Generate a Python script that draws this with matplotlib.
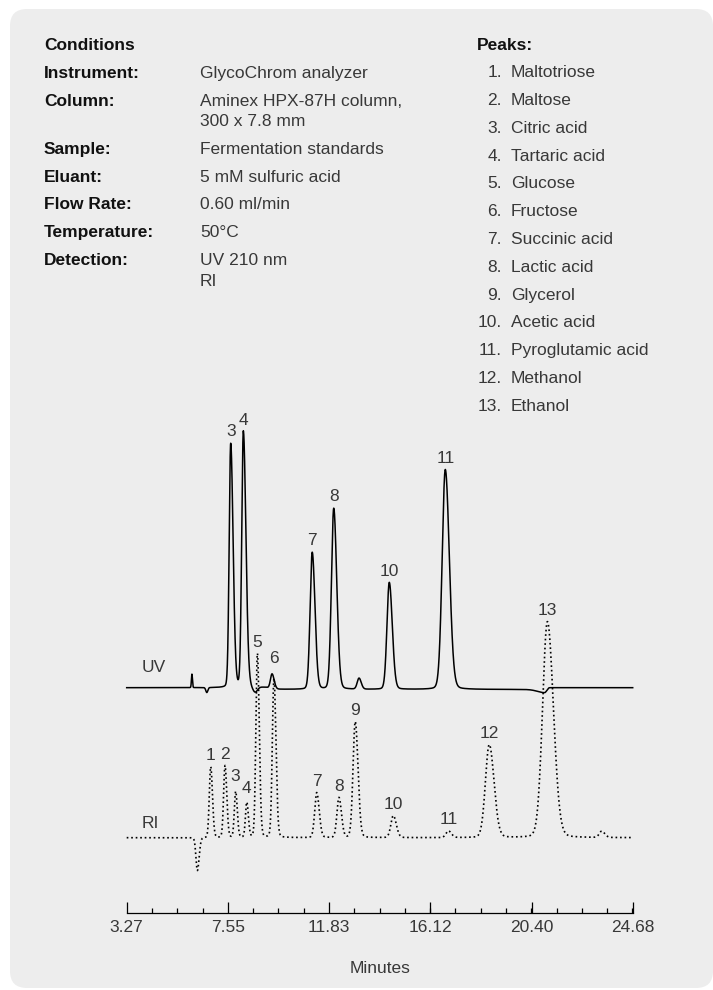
import numpy as np
import matplotlib
matplotlib.use("Agg")
import matplotlib.pyplot as plt
from matplotlib.patches import FancyBboxPatch

plt.rcParams['font.family'] = ['Liberation Sans', 'DejaVu Sans']
plt.rcParams['font.size'] = 12.5

# ---- data ----
cond_labels = ["Instrument:", "Column:", "Sample:", "Eluant:", "Flow Rate:",
               "Temperature:", "Detection:"]
cond_values = ["GlycoChrom analyzer", "Aminex HPX-87H column,\n300 x 7.8 mm",
               "Fermentation standards", "5 mM sulfuric acid", "0.60 ml/min",
               "50°C", "UV 210 nm\nRI"]
peak_names = ["Maltotriose", "Maltose", "Citric acid", "Tartaric acid", "Glucose",
              "Fructose", "Succinic acid", "Lactic acid", "Glycerol", "Acetic acid",
              "Pyroglutamic acid", "Methanol", "Ethanol"]

xticks = [3.27, 7.55, 11.83, 16.12, 20.40, 24.68]

# UV trace: retention time (min), height, half width, tailing; label ('' = none)
uv_t = [6.03, 6.66, 7.67, 8.205, 8.70, 9.42, 11.12, 12.03, 13.10, 14.38, 16.75, 20.95]
uv_h = [13.5, -5.0, 244, 256, -6.0, 15, 137, 181, 11, 107, 220, -3.2]
uv_w = [0.025, 0.05, 0.075, 0.08, 0.12, 0.08, 0.105, 0.115, 0.09, 0.115, 0.155, 0.35]
uv_tail = [1.0, 1.0, 1.6, 1.6, 1.0, 1.3, 1.3, 1.3, 1.2, 1.3, 1.3, 0.23]
uv_lab = ['', '', '3', '4', '', '', '7', '8', '', '10', '11', '']
uv_drift = (9.3, 21.1, -1.8)   # start, end, level

# RI trace
ri_t = [6.26, 6.825, 7.43, 7.88, 8.35, 8.80, 9.50, 11.31, 12.25, 12.94, 14.55,
        16.88, 18.61, 21.07, 23.37]
ri_h = [-33, 71, 72, 46, 35, 184, 159, 45, 40, 116, 22, 6.7, 93, 216, 6.3]
ri_w = [0.07, 0.07, 0.07, 0.065, 0.065, 0.075, 0.08, 0.1, 0.1, 0.11, 0.12,
        0.12, 0.19, 0.24, 0.12]
ri_lab = ['', '1', '2', '3', '4', '5', '6', '7', '8', '9', '10', '11', '12', '13', '']

# ---- layout (pixels) ----
W, H = 713, 990
x0, x1 = 126.7, 632.7      # axis ends
y_axis = 913.3             # axis line (from top)
y_top = 400
uv_base = y_axis - 687.7
ri_base = y_axis - 837.7
label_gap = 13
label_nudge = {('RI', '6'): 9, ('RI', '3'): 3.5, ('RI', '4'): 2, ('UV', '4'): -1.5}
txt_col = '#383838'


def peak(t, t0, h, w, tail, eta=0.08):
    s = np.where(t < t0, w, w * tail)
    x = (t - t0) / s
    return h * ((1 - eta) * np.exp(-np.log(2) * x ** 2) + eta / (1 + x ** 2))


t = np.linspace(xticks[0], xticks[-1], 6000)
uv = np.full_like(t, uv_base)
for a, b, c, d in zip(uv_t, uv_h, uv_w, uv_tail):
    uv += peak(t, a, b, c, d)
a, b, lvl = uv_drift
uv += lvl * 0.5 * (np.tanh((t - a) / 0.15) - np.tanh((t - b) / 0.03))

ri = np.full_like(t, ri_base)
for a, b, c in zip(ri_t, ri_h, ri_w):
    ri += peak(t, a, b, c, 1.25)

fig = plt.figure(figsize=(W / 100, H / 100), dpi=100)

# background panel + header texts in pixel coords
bg = fig.add_axes([0, 0, 1, 1])
bg.set_xlim(0, W)
bg.set_ylim(H, 0)
bg.axis('off')
bg.add_patch(FancyBboxPatch((10, 9), 703, 979, boxstyle="round,pad=0,rounding_size=17",
                            fc='#ededed', ec='none'))

cap = 6.2
bg.text(44, 43.3 + cap, "Conditions", weight='bold', color='#111111', va='baseline')
yy = 71.7
for lab, val in zip(cond_labels, cond_values):
    bg.text(44, yy + cap, lab, weight='bold', color='#111111', va='baseline')
    for i, line in enumerate(val.split('\n')):
        bg.text(200, yy + cap + i * 20.7, line, color=txt_col, va='baseline')
    yy += 27.7 + 20.7 * (len(val.split('\n')) - 1)

bg.text(476.4, 43.3 + cap, "Peaks:", weight='bold', color='#111111', va='baseline')
for i, name in enumerate(peak_names):
    yy = 71 + i * 27.8 + cap
    bg.text(502, yy, f"{i + 1}.", ha='right', color=txt_col, va='baseline')
    bg.text(511, yy, name, color=txt_col, va='baseline')

bg.text((x0 + x1) / 2, 966.7 + cap, "Minutes", ha='center', color=txt_col, va='baseline')

# chromatogram axes, y in pixel units above the axis line
ax = fig.add_axes([x0 / W, (H - y_axis) / H, (x1 - x0) / W, (y_axis - y_top) / H])
ax.patch.set_alpha(0)
ax.set_xlim(xticks[0], xticks[-1])
ax.set_ylim(0, y_axis - y_top)
for s in ['left', 'right', 'top']:
    ax.spines[s].set_visible(False)
ax.spines['bottom'].set_linewidth(0.9)
ax.set_yticks([])
ax.set_xticks(xticks)
ax.set_xticklabels([f"{v:.2f}" for v in xticks], color=txt_col)
step = (xticks[1] - xticks[0]) / 4
ax.set_xticks(np.arange(xticks[0], xticks[-1] + 1e-6, step), minor=True)
ax.tick_params(axis='x', which='major', direction='in', length=8, width=0.9, pad=5)
ax.tick_params(axis='x', which='minor', direction='in', length=3.8, width=0.9)

ax.plot(t, ri, color='black', lw=1.2, ls=(0, (1.0, 1.7)), clip_on=False)
ax.plot(t, uv, color='black', lw=1.1, clip_on=False)

for name, times, labs, curve in [('UV', uv_t, uv_lab, uv), ('RI', ri_t, ri_lab, ri)]:
    for tt, lab in zip(times, labs):
        if not lab:
            continue
        top = curve[np.argmin(np.abs(t - tt))]
        off = label_gap + label_nudge.get((name, lab), 0) - cap
        ax.text(tt, top + off, lab, ha='center', va='baseline', color=txt_col, clip_on=False)

ax.text(4.40, uv_base + 21.7 - cap, "UV", ha='center', va='baseline', color=txt_col)
ax.text(4.29, ri_base + 15.4 - cap, "RI", ha='center', va='baseline', color=txt_col)

fig.savefig("out.png", dpi=100)
